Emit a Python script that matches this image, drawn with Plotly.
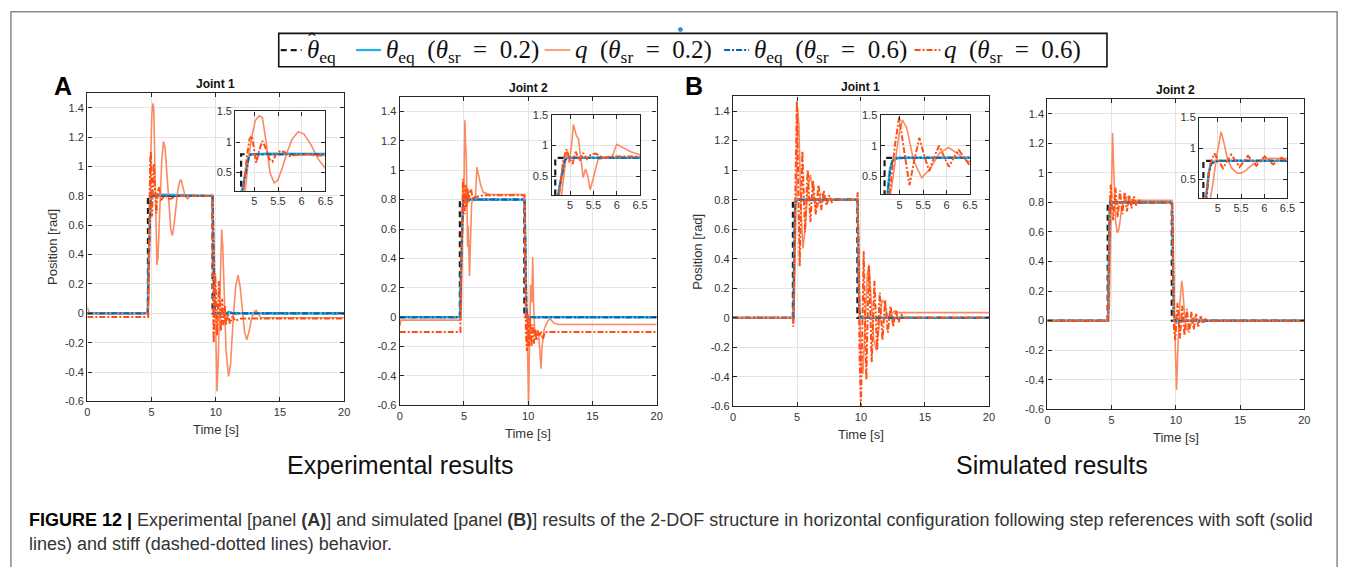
import plotly.graph_objects as go

W, H = 1354, 567

# ---------------------------------------------------------------------------
# Data: (time [s], position [rad]) samples for every series of every panel
# ---------------------------------------------------------------------------

# Panel A (experimental), Joint 1
AJ1_REF = [(0, 0), (4.72, 0), (4.72, 0.8), (9.75, 0.8), (9.75, 0), (20, 0)]
AJ1_EQ02 = [(0, 0), (4.70, 0), (4.76, 0.3), (4.82, 0.55), (4.88, 0.76), (4.93, 0.8),
            (5.3, 0.81), (9.75, 0.8), (9.79, 0.55), (9.83, 0.3), (9.88, 0.1), (9.95, 0.0),
            (10.8, 0.0), (11.0, 0.012), (11.4, 0.0), (20, 0)]
AJ1_Q02 = [(0, 0.04), (0.05, 0.02), (0.15, 0.0), (4.72, 0.0), (4.78, 0.1), (4.83, 0.35),
           (4.88, 0.75), (4.95, 1.1), (5.02, 1.35), (5.1, 1.43), (5.17, 1.40), (5.25, 1.0),
           (5.33, 0.5), (5.42, 0.33), (5.5, 0.38), (5.6, 0.6), (5.7, 0.85), (5.8, 1.05),
           (5.93, 1.17), (6.05, 1.13), (6.2, 0.95), (6.35, 0.72), (6.5, 0.57), (6.62, 0.53),
           (6.75, 0.6), (6.9, 0.72), (7.05, 0.84), (7.2, 0.9), (7.3, 0.91), (7.45, 0.86),
           (7.6, 0.8), (7.8, 0.78), (8.0, 0.8), (9.75, 0.8), (9.8, 0.7), (9.9, 0.3),
           (10.0, -0.2), (10.1, -0.53), (10.2, -0.3), (10.3, 0.1), (10.4, 0.45), (10.46, 0.57),
           (10.55, 0.45), (10.65, 0.1), (10.8, -0.25), (11.0, -0.43), (11.15, -0.35),
           (11.35, -0.05), (11.55, 0.18), (11.73, 0.26), (11.9, 0.18), (12.1, 0.0),
           (12.25, -0.13), (12.42, -0.18), (12.6, -0.12), (12.8, -0.03), (13.0, 0.01),
           (13.14, 0.02), (13.3, 0.0), (13.5, -0.03), (20, -0.03)]
AJ1_EQ06 = [(0, 0), (4.71, 0), (4.77, 0.3), (4.83, 0.56), (4.89, 0.77), (4.94, 0.8),
            (9.76, 0.8), (9.8, 0.55), (9.84, 0.3), (9.89, 0.1), (9.96, 0.0), (20, 0)]
AJ1_Q06 = [(0, -0.025), (4.74, -0.025), (4.78, 0.3), (4.84, 0.75), (4.9, 1.05), (4.95, 1.1),
           (5.0, 0.85), (5.04, 0.66), (5.1, 0.85), (5.17, 1.02), (5.24, 0.9), (5.32, 0.72),
           (5.38, 0.68), (5.46, 0.8), (5.55, 0.86), (5.65, 0.83), (5.75, 0.77), (5.9, 0.79),
           (6.1, 0.8), (6.3, 0.78), (6.5, 0.78), (7.0, 0.8), (9.72, 0.8), (9.76, 0.3),
           (9.8, -0.05), (9.84, -0.2), (9.9, 0.05), (9.96, 0.27), (10.03, 0.1), (10.1, -0.15),
           (10.18, 0.05), (10.25, 0.22), (10.33, 0.05), (10.4, -0.12), (10.5, 0.1),
           (10.6, -0.08), (10.7, 0.05), (10.8, -0.08), (10.95, 0.0), (11.1, -0.07),
           (11.3, -0.02), (11.5, -0.05), (12.0, -0.035), (20, -0.035)]

# Panel A (experimental), Joint 2
AJ2_REF = [(0, 0), (4.68, 0), (4.68, 0.8), (9.7, 0.8), (9.7, 0), (20, 0)]
AJ2_EQ02 = [(0, 0), (4.70, 0), (4.76, 0.3), (4.82, 0.55), (4.88, 0.76), (4.93, 0.8),
            (9.72, 0.8), (9.76, 0.5), (9.8, 0.25), (9.85, 0.07), (9.92, 0.0), (20, 0)]
AJ2_Q02 = [(0, -0.06), (0.1, -0.02), (4.72, -0.02), (4.8, 0.1), (4.88, 0.6), (4.93, 0.92),
           (4.98, 0.72), (5.03, 1.0), (5.07, 1.34), (5.13, 1.17), (5.18, 1.1), (5.24, 0.74),
           (5.28, 0.48), (5.33, 0.62), (5.38, 0.5), (5.43, 0.28), (5.5, 0.5), (5.6, 0.78),
           (5.75, 0.8), (5.9, 0.82), (6.0, 1.02), (6.15, 0.96), (6.3, 0.9), (6.5, 0.85),
           (7.0, 0.835), (9.72, 0.835), (9.8, 0.5), (9.9, 0.0), (9.98, -0.45), (10.03, -0.6),
           (10.1, -0.2), (10.19, 0.22), (10.28, 0.1), (10.35, 0.41), (10.42, 0.1),
           (10.5, -0.08), (10.65, -0.12), (10.8, -0.1), (10.92, -0.25), (11.0, -0.35),
           (11.08, -0.2), (11.25, -0.08), (11.5, -0.03), (11.7, -0.01), (12.0, -0.04),
           (12.35, -0.05), (20, -0.05)]
AJ2_EQ06 = [(0, 0), (4.71, 0), (4.77, 0.3), (4.83, 0.56), (4.89, 0.77), (4.94, 0.8),
            (9.73, 0.8), (9.77, 0.5), (9.81, 0.25), (9.86, 0.07), (9.93, 0.0), (20, 0)]
AJ2_Q06 = [(0, -0.1), (4.72, -0.1), (4.78, 0.3), (4.85, 0.75), (4.92, 0.94), (4.98, 0.8),
           (5.05, 0.7), (5.12, 0.9), (5.2, 0.75), (5.28, 0.88), (5.36, 0.78), (5.45, 0.86),
           (5.55, 0.87), (5.7, 0.8), (5.85, 0.82), (6.1, 0.82), (6.5, 0.83), (9.7, 0.83),
           (9.76, 0.3), (9.82, -0.1), (9.9, -0.23), (9.97, 0.02), (10.05, -0.2), (10.15, 0.0),
           (10.25, -0.2), (10.35, -0.05), (10.45, -0.18), (10.55, -0.08), (10.65, -0.16),
           (10.75, -0.09), (10.85, -0.13), (11.0, -0.1), (11.15, -0.15), (11.3, -0.1),
           (20, -0.1)]

# Panel B (simulated), Joint 1
BJ1_REF = [(0, 0), (4.68, 0), (4.68, 0.8), (9.72, 0.8), (9.72, 0), (20, 0)]
BJ1_EQ02 = [(0, 0), (4.72, 0), (4.75, 0.3), (4.79, 0.6), (4.84, 0.75), (4.92, 0.79),
            (5.1, 0.8), (9.74, 0.8), (9.77, 0.5), (9.81, 0.2), (9.86, 0.05), (9.95, 0.01),
            (10.1, 0.0), (20, 0)]
BJ1_Q02 = [(0, 0), (4.72, 0), (4.8, 0.15), (4.9, 0.7), (5.0, 1.25), (5.06, 1.42), (5.15, 1.3),
           (5.3, 0.75), (5.47, 0.47), (5.65, 0.62), (5.85, 0.88), (6.04, 0.97), (6.25, 0.86),
           (6.45, 0.74), (6.65, 0.76), (6.85, 0.84), (7.05, 0.83), (7.3, 0.79), (7.6, 0.8),
           (9.72, 0.8), (9.8, 0.5), (9.9, 0.0), (10.0, -0.3), (10.15, -0.38), (10.3, -0.1),
           (10.5, 0.3), (10.62, 0.36), (10.8, 0.1), (11.0, -0.15), (11.2, -0.22),
           (11.4, -0.05), (11.65, 0.12), (11.85, 0.1), (12.1, 0.0), (12.35, 0.02),
           (12.6, 0.045), (13.0, 0.035), (20, 0.035)]
BJ1_EQ06 = [(0, 0), (4.73, 0), (4.76, 0.3), (4.8, 0.6), (4.85, 0.75), (4.93, 0.79),
            (5.1, 0.8), (9.75, 0.8), (9.78, 0.5), (9.82, 0.2), (9.87, 0.05), (9.96, 0.01),
            (10.1, 0.0), (20, 0)]
BJ1_Q06 = [(0, 0), (4.68, 0), (4.72, -0.06), (4.8, 0.3), (4.9, 1.0), (4.99, 1.47),
           (5.1, 0.9), (5.21, 0.35), (5.31, 0.75), (5.42, 1.13), (5.52, 0.85), (5.63, 0.58),
           (5.73, 0.8), (5.84, 1.0), (5.94, 0.83), (6.05, 0.65), (6.15, 0.8), (6.26, 0.93),
           (6.36, 0.82), (6.47, 0.7), (6.57, 0.8), (6.68, 0.9), (6.89, 0.73), (7.1, 0.86),
           (7.31, 0.76), (7.52, 0.83), (7.73, 0.78), (7.94, 0.81), (8.2, 0.8), (9.7, 0.8),
           (9.74, 0.85), (9.8, 0.3), (9.9, -0.3), (10.0, -0.6), (10.1, -0.1), (10.21, 0.45),
           (10.31, 0.0), (10.42, -0.42), (10.52, 0.0), (10.63, 0.35), (10.84, -0.3),
           (11.05, 0.25), (11.26, -0.22), (11.47, 0.17), (11.68, -0.15), (11.89, 0.12),
           (12.1, -0.1), (12.31, 0.08), (12.52, -0.06), (12.73, 0.05), (12.94, -0.03),
           (13.15, 0.02), (13.4, 0.0), (20, 0)]

# Panel B (simulated), Joint 2
BJ2_REF = [(0, 0), (4.69, 0), (4.69, 0.8), (9.68, 0.8), (9.68, 0), (20, 0)]
BJ2_EQ02 = [(0, 0), (4.72, 0), (4.76, 0.3), (4.8, 0.6), (4.85, 0.75), (4.93, 0.79),
            (5.1, 0.8), (9.7, 0.8), (9.74, 0.5), (9.78, 0.2), (9.83, 0.05), (9.92, 0.01),
            (10.1, 0.0), (20, 0)]
BJ2_Q02 = [(0, 0), (4.72, 0), (4.82, 0.1), (4.9, 0.45), (4.97, 0.85), (5.03, 1.15),
           (5.07, 1.27), (5.13, 1.1), (5.2, 0.85), (5.3, 0.68), (5.42, 0.6), (5.5, 0.6),
           (5.6, 0.64), (5.75, 0.74), (5.9, 0.8), (6.1, 0.84), (6.3, 0.83), (6.6, 0.815),
           (9.7, 0.815), (9.8, 0.5), (9.9, 0.0), (9.97, -0.3), (10.05, -0.47), (10.15, -0.2),
           (10.3, 0.1), (10.45, 0.27), (10.55, 0.2), (10.7, 0.0), (10.9, -0.07),
           (11.1, -0.04), (11.4, 0.02), (11.8, 0.0), (20, 0)]
BJ2_EQ06 = [(0, 0), (4.73, 0), (4.77, 0.3), (4.81, 0.6), (4.86, 0.75), (4.94, 0.79),
            (5.1, 0.8), (9.71, 0.8), (9.75, 0.5), (9.79, 0.2), (9.84, 0.05), (9.93, 0.01),
            (10.1, 0.0), (20, 0)]
BJ2_Q06 = [(0, 0), (4.7, 0), (4.76, 0.3), (4.84, 0.75), (4.93, 0.92), (5.11, 0.68),
           (5.29, 0.9), (5.47, 0.7), (5.65, 0.88), (5.83, 0.72), (6.01, 0.87), (6.19, 0.74),
           (6.37, 0.85), (6.55, 0.76), (6.73, 0.84), (6.91, 0.78), (7.09, 0.82), (7.3, 0.8),
           (9.7, 0.8), (9.76, 0.3), (9.85, -0.05), (9.95, -0.13), (10.13, 0.12),
           (10.31, -0.12), (10.49, 0.1), (10.67, -0.1), (10.85, 0.08), (11.03, -0.08),
           (11.21, 0.06), (11.39, -0.06), (11.57, 0.045), (11.75, -0.04), (11.93, 0.03),
           (12.11, -0.02), (12.3, 0.01), (12.5, 0.0), (20, 0)]

# Axis ticks
MAIN_XTICKS = [0, 5, 10, 15, 20]
MAIN_YTICKS = [-0.6, -0.4, -0.2, 0, 0.2, 0.4, 0.6, 0.8, 1.0, 1.2, 1.4]
MAIN_YLABELS = ["-0.6", "-0.4", "-0.2", "0", "0.2", "0.4", "0.6", "0.8", "1", "1.2", "1.4"]
INSET_XTICKS = [5, 5.5, 6, 6.5]
INSET_XLABELS = ["5", "5.5", "6", "6.5"]
INSET_YTICKS = [0.5, 1.0, 1.5]
INSET_YLABELS = ["0.5", "1", "1.5"]

PANEL_TITLES = ["Joint 1", "Joint 2", "Joint 1", "Joint 2"]

# Legend entries (label text, line style)
LEGEND_LABELS = [
    "<i>θ</i><sub>eq</sub>",
    "<i>θ</i><sub>eq</sub>\u2002(<i>θ</i><sub>sr</sub>\u2002=\u20020.2)",
    "<i>q</i>\u2002(<i>θ</i><sub>sr</sub>\u2002=\u20020.2)",
    "<i>θ</i><sub>eq</sub>\u2002(<i>θ</i><sub>sr</sub>\u2002=\u20020.6)",
    "<i>q</i>\u2002(<i>θ</i><sub>sr</sub>\u2002=\u20020.6)",
]
SERIES_LINES = [
    dict(color="#1c1c1c", width=2.2, dash="6px,4px"),
    dict(color="#1fb0e6", width=2.2),
    dict(color="#fb8a62", width=1.6),
    dict(color="#0a64ad", width=2.0, dash="6px,2px,2px,2px"),
    dict(color="#ff4f14", width=2.0, dash="6px,2px,2px,2px"),
]

# ---------------------------------------------------------------------------
# Layout geometry (pixel boxes: left, right, top, bottom)
# ---------------------------------------------------------------------------
MAIN_BOX = [(85, 344, 89, 404), (400, 659, 92.7, 408),
            (736, 994, 92.3, 409), (1053, 1312, 95, 412)]
INSET_BOX = [(234.3, 325, 107.7, 189), (553, 642.3, 111, 193),
             (885, 975, 111.7, 192.3), (1206, 1295, 114, 196)]
# legend: frame box and per-entry (sample x0, sample x1, text x)
LEGEND_FRAME = (278, 1113, 28, 62)
LEGEND_SLOTS = [(280, 301, 304), (356, 381, 384), (546, 572, 575),
                (727, 752, 755), (919, 945, 947)]
LEGEND_MID = 45

PANELS = [
    (AJ1_REF, AJ1_EQ02, AJ1_Q02, AJ1_EQ06, AJ1_Q06),
    (AJ2_REF, AJ2_EQ02, AJ2_Q02, AJ2_EQ06, AJ2_Q06),
    (BJ1_REF, BJ1_EQ02, BJ1_Q02, BJ1_EQ06, BJ1_Q06),
    (BJ2_REF, BJ2_EQ02, BJ2_Q02, BJ2_EQ06, BJ2_Q06),
]

SANS = "Liberation Sans, Arial, Helvetica, sans-serif"
SERIF = "Liberation Serif, Times New Roman, serif"
AXIS_COLOR = "#262626"
GRID_COLOR = "#e4e4e4"


def fx(px):
    return px / W


def fy(py):
    return 1 - py / H


def label(text, x, y, size, color="#333333", family=SANS, **kw):
    d = dict(text=text, x=fx(x), y=fy(y), xref="paper", yref="paper", showarrow=False,
             xanchor="center", yanchor="middle",
             font=dict(family=family, size=size, color=color))
    d.update(kw)
    return d


fig = go.Figure()

for p, series in enumerate(PANELS):
    main_id = p + 1
    inset_id = p + 5
    for s, (pts, line) in enumerate(zip(series, SERIES_LINES)):
        t = [a for a, _ in pts]
        v = [b for _, b in pts]
        for ax_id in (main_id, inset_id):
            sfx = "" if ax_id == 1 else str(ax_id)
            fig.add_trace(go.Scatter(
                x=t, y=v, mode="lines", line=line, showlegend=False,
                xaxis="x" + sfx, yaxis="y" + sfx, hoverinfo="skip",
            ))

layout_axes = {}
common = dict(ticks="inside", mirror="ticks", showline=True, linecolor=AXIS_COLOR,
              linewidth=1.4, tickcolor=AXIS_COLOR, ticklen=4, tickwidth=1.2,
              showgrid=True, gridcolor=GRID_COLOR, gridwidth=1, zeroline=False,
              tickfont=dict(family=SANS, size=11, color="#333333"))

for i, (l, r, t, b) in enumerate(MAIN_BOX):
    k = i + 1
    sfx = "" if k == 1 else str(k)
    layout_axes["xaxis" + sfx] = dict(common, domain=[fx(l), fx(r)], range=[0, 20],
                                      tickvals=MAIN_XTICKS, anchor="y" + sfx)
    layout_axes["yaxis" + sfx] = dict(common, domain=[fy(b), fy(t)], range=[-0.6, 1.5],
                                      tickvals=MAIN_YTICKS, ticktext=MAIN_YLABELS,
                                      anchor="x" + sfx)

for i, (l, r, t, b) in enumerate(INSET_BOX):
    sfx = str(i + 5)
    layout_axes["xaxis" + sfx] = dict(common, domain=[fx(l), fx(r)], range=[4.6, 6.5],
                                      tickvals=INSET_XTICKS, ticktext=INSET_XLABELS,
                                      anchor="y" + sfx)
    layout_axes["yaxis" + sfx] = dict(common, domain=[fy(b), fy(t)], range=[0.2, 1.5],
                                      tickvals=INSET_YTICKS, ticktext=INSET_YLABELS,
                                      anchor="x" + sfx)

annotations = []
title_y = [80, 84, 83, 86]
for i, (l, r, t, b) in enumerate(MAIN_BOX):
    cx = (l + r) / 2
    annotations.append(label(f"<b>{PANEL_TITLES[i]}</b>", cx, title_y[i], 12, "#111111"))
    annotations.append(label("Time [s]", cx, b + 29, 13))

for xpx, (l, r, t, b) in ((50, MAIN_BOX[0]), (700, MAIN_BOX[2])):
    annotations.append(label("Position [rad]", xpx, (t + b) / 2, 13, textangle=-90))

annotations += [
    label("<b>A</b>", 60, 82, 25, "#000000"),
    label("<b>B</b>", 697, 82, 25, "#000000"),
    label("Experimental results", 400, 469, 25, "#111111"),
    label("Simulated results", 1058, 469, 25, "#111111"),
    label("<span style='color:#000000'><b>FIGURE 12 |</b></span> Experimental [panel "
          "<b>(A)</b>] and simulated [panel <b>(B)</b>] results of the 2-DOF structure in "
          "horizontal configuration following step references with soft (solid",
          24, 525, 18, "#333333", xanchor="left"),
    label("lines) and stiff (dashed-dotted lines) behavior.", 24, 550, 18, "#333333",
          xanchor="left"),
]

# legend texts
for (x0, x1, tx), text in zip(LEGEND_SLOTS, LEGEND_LABELS):
    annotations.append(label(text, tx, LEGEND_MID + 1, 25, "#111111", family=SERIF,
                             xanchor="left"))
# hat accent over the first legend symbol
annotations.append(label("ˆ", LEGEND_SLOTS[0][2] + 8, 36, 23, "#111111", family=SERIF))

lf = LEGEND_FRAME
shapes = [
    # outer figure frame
    dict(type="rect", xref="paper", yref="paper", x0=fx(8), x1=fx(1345), y0=-0.1, y1=fy(6),
         line=dict(color="#8a8a8a", width=1.5), fillcolor="rgba(0,0,0,0)", layer="above"),
    # legend frame
    dict(type="rect", xref="paper", yref="paper", x0=fx(lf[0]), x1=fx(lf[1]),
         y0=fy(lf[3]), y1=fy(lf[2]), line=dict(color="#111111", width=1.6),
         fillcolor="white"),
    # small marker above the legend box
    dict(type="circle", xref="paper", yref="paper", x0=fx(681), x1=fx(685), y0=fy(26),
         y1=fy(22), line=dict(color="#3d8fd0", width=1), fillcolor="#3d8fd0"),
]
for (x0, x1, tx), line in zip(LEGEND_SLOTS, SERIES_LINES):
    shapes.append(dict(type="line", xref="paper", yref="paper", x0=fx(x0), x1=fx(x1),
                       y0=fy(LEGEND_MID), y1=fy(LEGEND_MID),
                       line=dict(color=line["color"], width=line["width"],
                                 dash=line.get("dash", "solid"))))

fig.update_layout(
    width=W, height=H, margin=dict(l=0, r=0, t=0, b=0),
    paper_bgcolor="white", plot_bgcolor="white",
    showlegend=False,
    annotations=annotations, shapes=shapes,
    **layout_axes,
)

fig.write_html("out.html")
